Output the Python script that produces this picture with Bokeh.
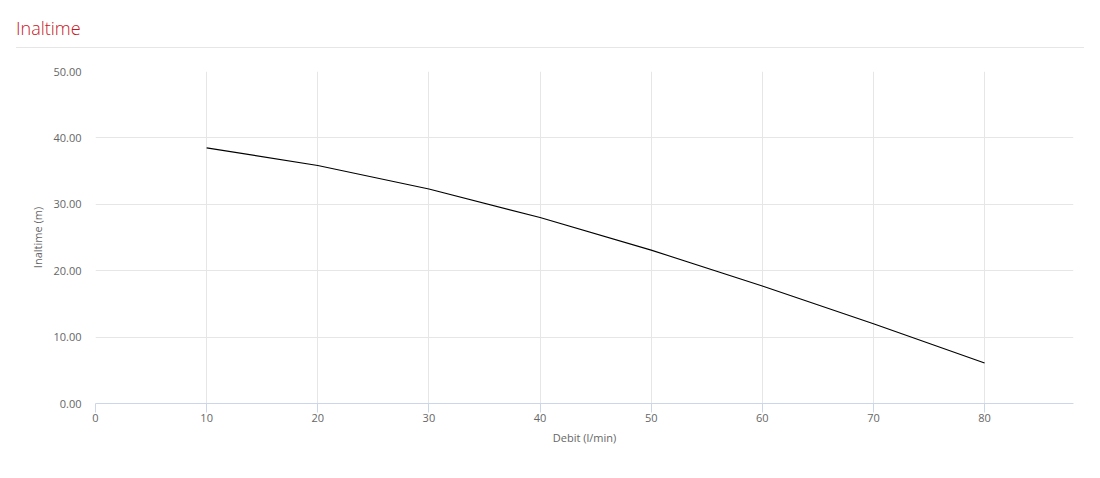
from bokeh.plotting import figure
from bokeh.models import Div, NumeralTickFormatter, FixedTicker, Range1d
from bokeh.layouts import column
from bokeh.embed import file_html
from bokeh.resources import INLINE

# Data
debit = [10, 20, 30, 40, 50, 60, 70, 80]
inaltime = [38.5, 35.85, 32.3, 28.0, 23.1, 17.7, 12.0, 6.1]
x_ticks = [0, 10, 20, 30, 40, 50, 60, 70, 80]
y_ticks = [0, 10, 20, 30, 40, 50]

FONT = "Open Sans"

title = Div(
    text=(
        '<div style="margin-left:8px;width:1068px;height:39px;'
        'border-bottom:1px solid #e6e6e6;box-sizing:content-box;">'
        '<div style="padding-top:8px;font-family:\'Open Sans\';font-weight:300;'
        'font-size:18px;line-height:24px;color:#c8161e;">Inaltime</div></div>'
    ),
    width=1084, height=40, margin=(8, 0, 0, 8),
)

p = figure(
    width=1084, height=422,
    output_backend="svg", toolbar_location=None,
    x_range=Range1d(0, 88), y_range=Range1d(0, 50),
    min_border_left=87, min_border_right=19, min_border_top=23, min_border_bottom=67,
    margin=(0, 0, 0, 8),
)
p.outline_line_color = None
p.background_fill_color = "white"
p.border_fill_color = "white"

p.line(debit, inaltime, line_color="black", line_width=1.1)

# grids
p.xgrid.ticker = FixedTicker(ticks=x_ticks)
p.ygrid.ticker = FixedTicker(ticks=y_ticks)
for g in (p.xgrid, p.ygrid):
    g.grid_line_color = "#e6e6e6"
    g.grid_line_width = 1

# x axis
xa = p.xaxis[0]
xa.ticker = FixedTicker(ticks=x_ticks)
xa.axis_line_color = "#ccd6eb"
xa.major_tick_line_color = "#ccd6eb"
xa.major_tick_out = 9
xa.major_tick_in = 0
xa.minor_tick_line_color = None
xa.major_label_standoff = 1
xa.major_label_text_font = FONT
xa.major_label_text_font_size = "11px"
xa.major_label_text_color = "#666666"
xa.axis_label = "Debit (l/min)"
xa.axis_label_text_font = FONT
xa.axis_label_text_font_size = "11px"
xa.axis_label_text_font_style = "normal"
xa.axis_label_text_color = "#666666"
xa.axis_label_standoff = 5

# y axis
ya = p.yaxis[0]
ya.ticker = FixedTicker(ticks=y_ticks)
ya.formatter = NumeralTickFormatter(format="0.00")
ya.axis_line_color = None
ya.major_tick_line_color = None
ya.minor_tick_line_color = None
ya.major_tick_out = 0
ya.major_tick_in = 0
ya.major_label_standoff = 14
ya.major_label_text_font = FONT
ya.major_label_text_font_size = "11px"
ya.major_label_text_color = "#666666"
ya.axis_label = "Inaltime (m)"
ya.axis_label_text_font = FONT
ya.axis_label_text_font_size = "11px"
ya.axis_label_text_font_style = "normal"
ya.axis_label_text_color = "#666666"
ya.axis_label_standoff = 5

layout = column(title, p, spacing=0)

open("out.html", "w").write(file_html(layout, INLINE))
